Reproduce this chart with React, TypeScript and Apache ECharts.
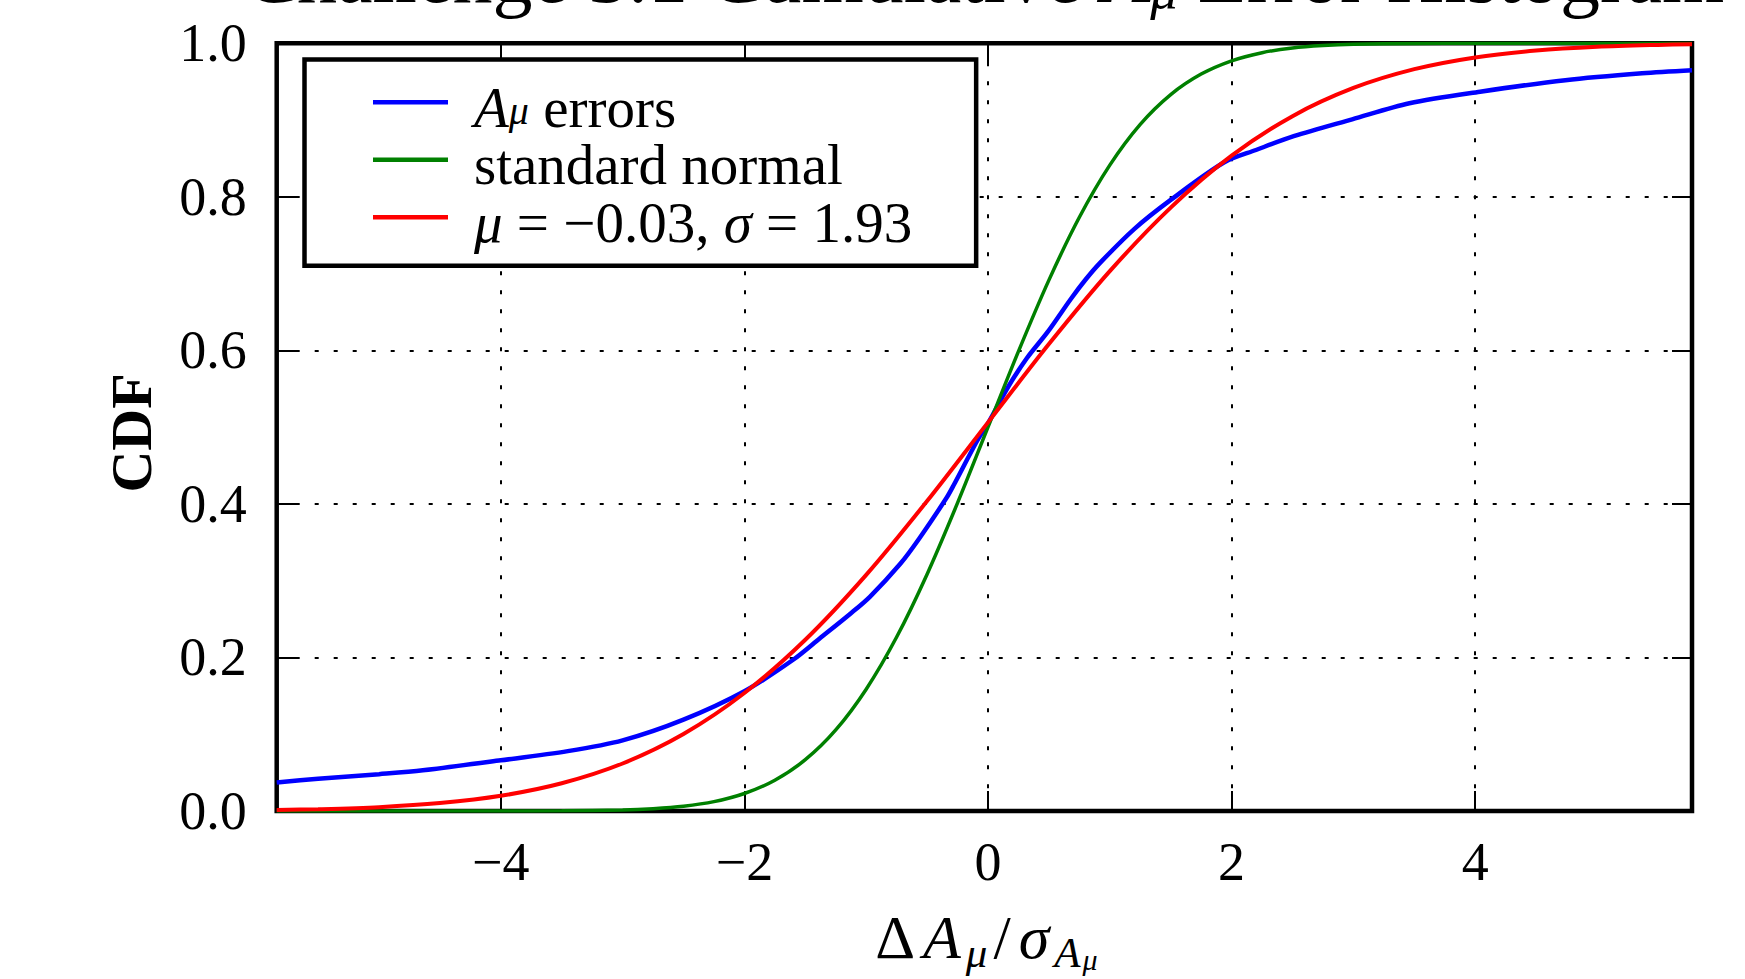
import React, { useEffect, useRef } from 'react';
import * as echarts from 'echarts';

// ---- data ----
const X_MIN = -5.84;
const X_MAX = 5.78;

const seriesNames = ['Aμ errors', 'standard normal', 'μ = −0.03, σ = 1.93'];

const blueX = [-5.84, -5.5, -5.0, -4.64, -4.0, -3.45, -3.0, -2.5, -2.0, -1.6, -1.38, -1.13, -0.97, -0.72, -0.56, -0.34, -0.28, -0.09, 0.0, 0.16, 0.32, 0.49, 0.68, 0.8, 0.92, 1.2, 1.5, 1.94, 2.2, 2.51, 2.99, 3.46, 4.04, 4.74, 5.37, 5.78];
const blueY = [0.037, 0.042, 0.048, 0.053, 0.066, 0.078, 0.092, 0.119, 0.156, 0.197, 0.225, 0.257, 0.279, 0.322, 0.356, 0.408, 0.425, 0.482, 0.505, 0.551, 0.59, 0.624, 0.667, 0.692, 0.714, 0.758, 0.796, 0.845, 0.861, 0.879, 0.901, 0.922, 0.937, 0.952, 0.961, 0.965];

const greenX = [-5.84, -4.0, -3.5, -3.0, -2.75, -2.5, -2.25, -2.0, -1.75, -1.5, -1.25, -1.0, -0.75, -0.5, -0.25, 0.0, 0.25, 0.5, 0.75, 1.0, 1.25, 1.5, 1.75, 2.0, 2.25, 2.5, 2.75, 3.0, 3.5, 4.0, 5.78];
const greenY = [0.0, 0.0001, 0.0002, 0.0013, 0.003, 0.0062, 0.0122, 0.0228, 0.0401, 0.0668, 0.1056, 0.1587, 0.2266, 0.3085, 0.4013, 0.5, 0.5987, 0.6915, 0.7734, 0.8413, 0.8944, 0.9332, 0.9599, 0.9772, 0.9878, 0.9938, 0.997, 0.9987, 0.9998, 1.0, 1.0];

const redX = [-5.84, -5.5, -5.0, -4.5, -4.0, -3.5, -3.0, -2.5, -2.0, -1.5, -1.0, -0.5, 0.0, 0.5, 1.0, 1.5, 2.0, 2.5, 3.0, 3.5, 4.0, 4.5, 5.0, 5.5, 5.78];
const redY = [0.0013, 0.0023, 0.005, 0.0103, 0.0198, 0.0361, 0.0619, 0.1003, 0.1537, 0.2231, 0.3076, 0.4038, 0.5062, 0.6082, 0.7032, 0.786, 0.8536, 0.9051, 0.9418, 0.9663, 0.9816, 0.9905, 0.9954, 0.9979, 0.9987];

const colors = ['#0000ff', '#008000', '#ff0000'];

const FONT = '"Liberation Serif", "Times New Roman", serif';

function pairs(xs: number[], ys: number[]) {
  return xs.map((x, i) => [x, ys[i]]);
}

export default function App() {
  const ref = useRef<HTMLDivElement>(null);

  useEffect(() => {
    document.body.style.margin = '0';
    const chart = echarts.init(ref.current!, null, { renderer: 'svg' });

    const LFS = 57;
    const legendRich = {
      n: { fontFamily: FONT, fontSize: LFS, lineHeight: 46, color: '#000' },
      it: { fontFamily: FONT, fontSize: LFS, lineHeight: 46, fontStyle: 'italic', color: '#000' },
      s: { fontFamily: FONT, fontSize: 40, lineHeight: 26, fontStyle: 'italic', verticalAlign: 'bottom', color: '#000' },
    };
    const legendText: Record<string, string> = {
      [seriesNames[0]]: '{it|A}{s|μ}{n| errors}',
      [seriesNames[1]]: '{n|standard normal}',
      [seriesNames[2]]: '{it|μ}{n| = −0.03, }{it|σ}{n| = 1.93}',
    };

    const tickStyle = { show: true, inside: true, length: 20, lineStyle: { color: '#000', width: 2 } };
    const noLine = { show: false, onZero: false };

    const option: any = {
      animation: false,
      backgroundColor: '#fff',
      grid: {
        left: 276.7,
        right: 53,
        top: 43.3,
        bottom: 164,
        show: true,
        borderColor: '#000',
        borderWidth: 4.5,
        backgroundColor: 'transparent',
      },
      xAxis: [
        {
          type: 'value',
          position: 'bottom',
          min: X_MIN,
          max: X_MAX,
          splitNumber: 5,
          axisLine: noLine,
          axisTick: tickStyle,
          axisLabel: {
            show: true,
            margin: 23.5,
            fontFamily: FONT,
            fontSize: 54,
            color: '#000',
            showMinLabel: false,
            showMaxLabel: false,
            formatter: (v: number) =>
              Number.isInteger(v) ? (v < 0 ? '\u2212' + Math.abs(v) : String(v)) : '',
          },
          splitLine: { show: true, lineStyle: { color: '#000', width: 2, type: [4, 15] } },
          name: '{n|Δ}{it|A}{s|μ}{n|/}{it|σ}{s|A}{ss|μ}',
          nameLocation: 'middle',
          nameGap: 89,
          nameTextStyle: {
            rich: {
              n: { fontFamily: FONT, fontSize: 62, lineHeight: 74, padding: [0, 4, 0, 4], color: '#000' },
              it: { fontFamily: FONT, fontSize: 62, lineHeight: 74, padding: [0, 4, 0, 4], fontStyle: 'italic', color: '#000' },
              s: { fontFamily: FONT, fontSize: 43, lineHeight: 42, padding: [0, 2, 0, 1], fontStyle: 'italic', verticalAlign: 'bottom', color: '#000' },
              ss: { fontFamily: FONT, fontSize: 30, lineHeight: 24, fontStyle: 'italic', verticalAlign: 'bottom', color: '#000' },
            },
          },
        },
        {
          type: 'value',
          position: 'top',
          min: X_MIN,
          max: X_MAX,
          splitNumber: 5,
          axisLine: noLine,
          axisTick: tickStyle,
          axisLabel: { show: false },
          splitLine: { show: false },
        },
      ],
      yAxis: [
        {
          type: 'value',
          position: 'left',
          min: 0,
          max: 1,
          interval: 0.2,
          axisLine: noLine,
          axisTick: tickStyle,
          axisLabel: {
            show: true,
            margin: 30,
            fontFamily: FONT,
            fontSize: 54,
            color: '#000',
            padding: [12, 0, 0, 0],
            formatter: (v: number) => v.toFixed(1),
          },
          splitLine: { show: true, lineStyle: { color: '#000', width: 2, type: [4, 15] } },
        },
        {
          type: 'value',
          position: 'right',
          min: 0,
          max: 1,
          interval: 0.2,
          axisLine: noLine,
          axisTick: tickStyle,
          axisLabel: { show: false },
          splitLine: { show: false },
        },
      ],
      legend: {
        orient: 'vertical',
        left: 304.5,
        top: 59.5,
        backgroundColor: '#fff',
        borderColor: '#000',
        borderWidth: 4.5,
        borderRadius: 0,
        padding: [14.8, 64, 15, 68.5],
        itemWidth: 75,
        itemHeight: 4.5,
        itemGap: -4,
        icon: 'rect',
        selectedMode: false,
        data: seriesNames,
        formatter: (name: string) => legendText[name],
        textStyle: {
          fontFamily: FONT,
          fontSize: LFS,
          lineHeight: 46,
          color: '#000',
          padding: [10, 0, 0, 21],
          rich: legendRich,
        },
        z: 10,
      },
      graphic: [
        {
          type: 'text',
          x: 984,
          y: -67,
          style: {
            text: 'Challenge 3.1 Cumulative {it|A}{s|μ} Error Histogram',
            font: '80px "Liberation Serif"',
            fill: '#000',
            lineHeight: 84,
            textAlign: 'center',
            textVerticalAlign: 'top',
            rich: {
              it: { fontFamily: FONT, fontSize: 80, lineHeight: 84, fontStyle: 'italic', fill: '#000' },
              s: { fontFamily: FONT, fontSize: 55, lineHeight: 52, fontStyle: 'italic', verticalAlign: 'bottom', fill: '#000' },
            },
          },
        },
        {
          type: 'text',
          x: 131.7,
          y: 433,
          rotation: Math.PI / 2,
          style: {
            text: 'CDF',
            font: 'bold 58px "Liberation Serif"',
            fill: '#000',
            textAlign: 'center',
            textVerticalAlign: 'middle',
          },
        },
      ],
      series: [
        {
          name: seriesNames[0],
          type: 'line',
          data: pairs(blueX, blueY),
          symbol: 'none',
          smooth: 0.3,
          color: colors[0],
          lineStyle: { color: colors[0], width: 4.5 },
          itemStyle: { color: colors[0] },
          z: 3,
        },
        {
          name: seriesNames[1],
          type: 'line',
          data: pairs(greenX, greenY),
          symbol: 'none',
          smooth: 0.3,
          color: colors[1],
          lineStyle: { color: colors[1], width: 3.5 },
          itemStyle: { color: colors[1] },
          z: 4,
        },
        {
          name: seriesNames[2],
          type: 'line',
          data: pairs(redX, redY),
          symbol: 'none',
          smooth: 0.3,
          color: colors[2],
          lineStyle: { color: colors[2], width: 4 },
          itemStyle: { color: colors[2] },
          z: 5,
        },
      ],
    };

    chart.setOption(option);
    return () => chart.dispose();
  }, []);

  return <div ref={ref} style={{ width: 1745, height: 979, overflow: 'hidden' }} />;
}
